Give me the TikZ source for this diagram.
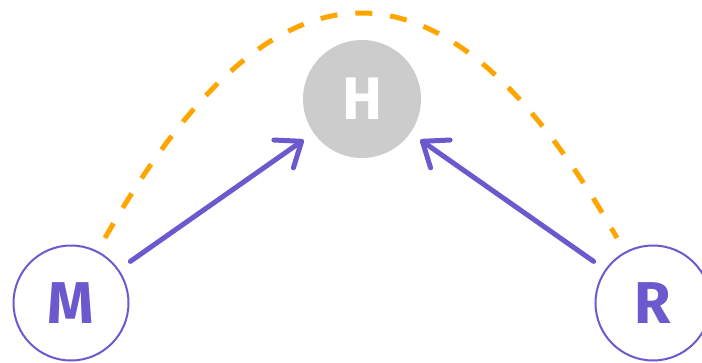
\documentclass[tikz,border=0pt]{standalone}
\usepackage{fontspec}
\setmainfont{Fira Sans}
\usetikzlibrary{arrows.meta}
\definecolor{pur}{RGB}{106,90,205}
\definecolor{org}{RGB}{255,165,0}
\definecolor{gry}{RGB}{204,204,204}
\begin{document}
\begin{tikzpicture}[x=1pt,y=-1pt,
  outer/.style={circle,draw=pur,line width=2pt,minimum size=115pt,inner sep=0pt,
    text=pur,font=\fontsize{59}{59}\selectfont\bfseries},
  hub/.style={circle,fill=gry,minimum size=118pt,inner sep=0pt,
    text=white,font=\fontsize{60}{60}\selectfont\bfseries},
  conn/.style={draw=pur,line width=5pt,line cap=round,
    -{Straight Barb[length=22pt,width=34pt,line cap=round,line join=round]}},
  arc/.style={draw=org,line width=5pt,dash pattern=on 17pt off 18pt}]
\useasboundingbox (0,0) rectangle (702,362);
\node[hub] (H) at (362,99) {H};
\node[outer] (M) at (71,303) {M};
\node[outer] (R) at (653,303) {R};
\coordinate (a0) at (105,238);
\coordinate (c1) at (275.7,-62);
\coordinate (c2) at (446.3,-62);
\coordinate (a1) at (617,238);
\draw[arc] (a0) .. controls (c1) and (c2) .. (a1);
\draw[conn,shorten <=14pt,shorten >=12pt] (M) -- (H);
\draw[conn,shorten <=14pt,shorten >=12pt] (R) -- (H);
\end{tikzpicture}
\end{document}
